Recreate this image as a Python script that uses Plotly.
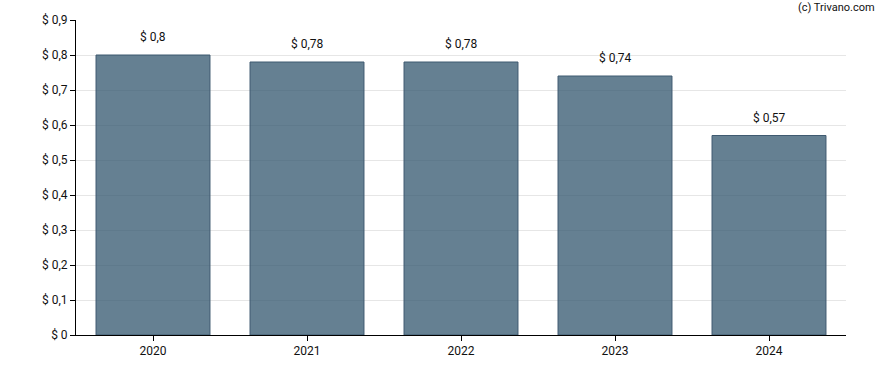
import plotly.graph_objects as go

years = ["2020", "2021", "2022", "2023", "2024"]
values = [0.80, 0.78, 0.78, 0.74, 0.57]
labels = ["$ 0,8", "$ 0,78", "$ 0,78", "$ 0,74", "$ 0,57"]

fig = go.Figure()
fig.add_trace(go.Bar(
    x=years, y=values,
    marker=dict(color="rgba(50,85,110,0.75)", line=dict(color="#3f5a70", width=1)),
    width=0.74,
    hoverinfo="skip",
))
for i, (v, t) in enumerate(zip(values, labels)):
    fig.add_annotation(x=i, y=v, text=t, showarrow=False, yshift=18,
                       font=dict(family="Roboto", size=12, color="#111"))

fig.add_annotation(xref="paper", yref="paper", x=1.04, y=1 + 12/315, text="(c) Trivano.com",
                   showarrow=False, xanchor="right", yanchor="middle",
                   font=dict(family="Roboto", size=11, color="#111"))

fig.update_layout(
    width=888, height=370,
    margin=dict(l=76, r=42, t=20, b=35),
    paper_bgcolor="white", plot_bgcolor="white",
    separators=", ",
    showlegend=False,
    font=dict(family="Roboto", size=12, color="#111"),
    bargap=0.26,
)
fig.update_xaxes(type="category", range=[-0.5, 4.5], showline=True, linecolor="black", linewidth=1,
                 ticks="outside", ticklen=5, tickcolor="black", showgrid=False, automargin=False)
fig.update_yaxes(range=[0, 0.9], dtick=0.1, tick0=0, tickprefix="$ ", showline=True,
                 linecolor="black", linewidth=1, ticks="outside", ticklen=5, tickcolor="black",
                 showgrid=True, gridcolor="#e6e6e6", gridwidth=1, zeroline=False, automargin=False)

fig.write_html("out.html", config={"displayModeBar": False},
               post_script="document.body.style.margin='0';document.body.style.overflow='hidden';")
